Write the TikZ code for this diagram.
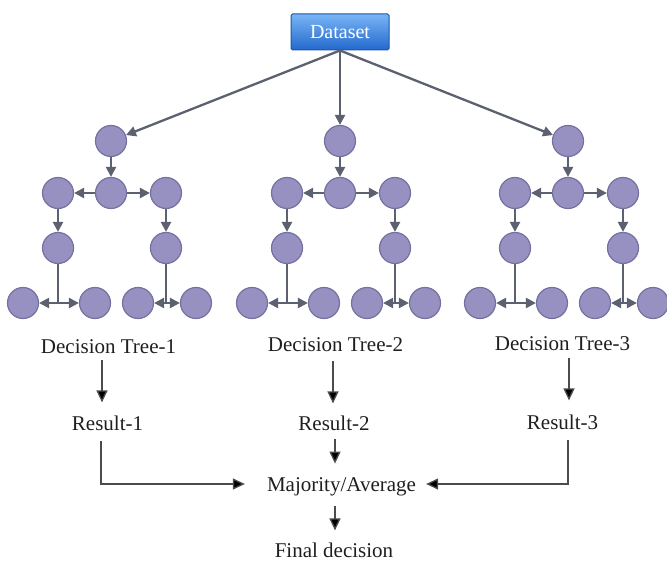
\documentclass[tikz,border=0pt]{standalone}
\usepackage{fontspec}
\setmainfont{Liberation Serif}
\usetikzlibrary{arrows.meta,calc}
\definecolor{ballfill}{RGB}{150,145,192}
\definecolor{balledge}{RGB}{118,112,160}
\definecolor{arr}{RGB}{92,97,112}
\definecolor{boxtop}{RGB}{120,180,245}
\definecolor{boxbot}{RGB}{35,105,205}
\definecolor{boxedge}{RGB}{30,85,170}
\begin{document}
\begin{tikzpicture}[x=1pt,y=-1pt,
  ball/.style={circle,fill=ballfill,draw=balledge,line width=1.2pt,minimum size=31pt,inner sep=0pt},
  tarr/.style={draw=arr,line width=2.3pt,-{Triangle[length=10pt,width=10pt]}},
  tline/.style={draw=arr,line width=2.3pt},
  lbl/.style={font=\fontsize{21}{24}\selectfont,text=black!88,inner sep=0pt},
  barr/.style={draw=black!70,line width=1.3pt,-{Triangle[length=12pt,width=11pt,fill=black]}},
  dsbox/.style={rectangle,rounded corners=1.5pt,minimum width=98pt,minimum height=36pt,
    top color=boxtop,bottom color=boxbot,draw=boxedge,line width=1pt,text=white,
    font=\fontsize{20}{24}\selectfont,inner sep=0pt}]
\useasboundingbox (0,0) rectangle (667,561);

\node[dsbox] (ds) at (340,32) {Dataset};

\foreach \i/\x in {1/111,2/340,3/568}{
  \node[ball] (t\i-r) at (\x,141) {};
  \node[ball] (t\i-a) at (\x-53,193) {};
  \node[ball] (t\i-m) at (\x,193) {};
  \node[ball] (t\i-b) at (\x+55,193) {};
  \node[ball] (t\i-c) at (\x-53,248) {};
  \node[ball] (t\i-d) at (\x+55,248) {};
  \node[ball] (t\i-e) at (\x-88,303) {};
  \node[ball] (t\i-f) at (\x-16,303) {};
  \node[ball] (t\i-g) at (\x+27,303) {};
  \node[ball] (t\i-h) at (\x+85,303) {};
  \coordinate (t\i-cj) at (\x-53,303);
  \coordinate (t\i-dj) at (\x+55,303);
  \draw[tarr] (ds.south) -- (t\i-r);
  \draw[tarr] (t\i-r) -- (t\i-m);
  \draw[tarr] (t\i-m) -- (t\i-a);
  \draw[tarr] (t\i-m) -- (t\i-b);
  \draw[tarr] (t\i-a) -- (t\i-c);
  \draw[tarr] (t\i-b) -- (t\i-d);
  \draw[tline] (t\i-c) -- (t\i-cj);
  \draw[tarr] (t\i-cj) -- (t\i-e);
  \draw[tarr] (t\i-cj) -- (t\i-f);
  \draw[tline] (t\i-d) -- (t\i-dj);
  \draw[tarr] (t\i-dj) -- (t\i-g);
  \draw[tarr] (t\i-dj) -- (t\i-h);
}

\node[lbl] (dt1) at (108.5,347) {Decision Tree-1};
\node[lbl] (dt2) at (335.5,345) {Decision Tree-2};
\node[lbl] (dt3) at (562.5,344) {Decision Tree-3};
\node[lbl] (r1) at (107.5,423) {Result-1};
\node[lbl] (r2) at (334,423) {Result-2};
\node[lbl] (r3) at (562.5,422) {Result-3};
\node[lbl] (maj) at (341.5,487) {Majority/Average};
\node[lbl] (fin) at (334,550) {Final decision};

\draw[barr] ([shift={(-6.5,6)}]dt1.south) -- ([shift={(-5.5,-13)}]r1.north);
\draw[barr] ([shift={(-2.5,9)}]dt2.south) -- ([shift={(-1,-12)}]r2.north);
\draw[barr] ([shift={(6.5,7)}]dt3.south) -- ([shift={(6.5,-14)}]r3.north);
\draw[barr] ([shift={(1,8)}]r2.south) -- ([shift={(-6.5,-14)}]maj.north);
\draw[barr] ([shift={(-6.5,10)}]maj.south) -- ([shift={(1,-12)}]fin.north);
\draw[barr] ([shift={(-6.5,10)}]r1.south) |- ([shift={(-22,-3)}]maj.west);
\draw[barr] ([shift={(5.5,10)}]r3.south) |- ([shift={(10,-3)}]maj.east);
\end{tikzpicture}
\end{document}
